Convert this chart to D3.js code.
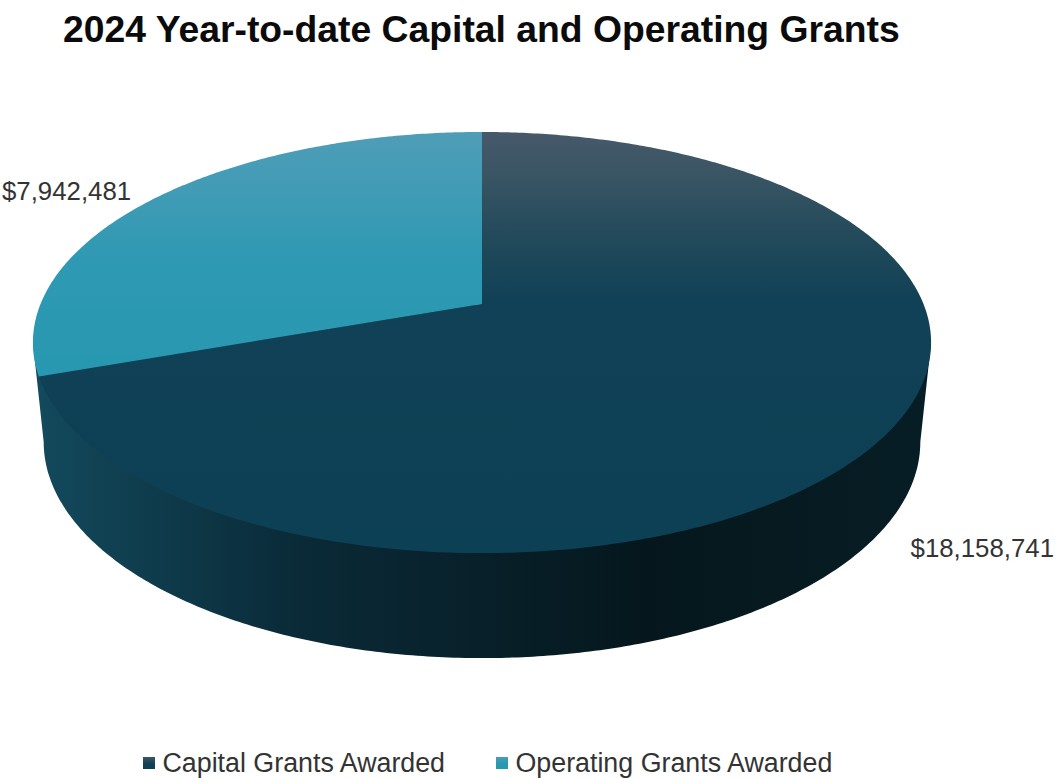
<!DOCTYPE html>
<html lang="en">
<head>
<meta charset="UTF-8">
<title>2024 Year-to-date Capital and Operating Grants</title>
<script src="https://d3js.org/d3.v7.min.js"></script>
<style>
  html, body { margin: 0; padding: 0; background: #fff; }
  svg { display: block; font-family: "Liberation Sans", Arial, sans-serif; }
</style>
</head>
<body>
<svg id="chart" width="1057" height="778"></svg>
<script>
const titleText = "2024 Year-to-date Capital and Operating Grants";
const categories = ["Capital Grants Awarded", "Operating Grants Awarded"];
const grantValues = [18158741, 7942481];

const svg = d3.select("#chart");
const defs = svg.append("defs");

// gradients: top face is vertical, the rim runs left to right
function vGrad(id, stops) {
  const g = defs.append("linearGradient").attr("id", id)
    .attr("gradientUnits", "userSpaceOnUse")
    .attr("x1", 0).attr("x2", 0).attr("y1", 132).attr("y2", 553);
  stops.forEach(s => g.append("stop").attr("offset", s[0]).attr("stop-color", s[1]));
}
vGrad("faceCapital", [[0, "#46596a"], [0.1, "#3a5564"], [0.25, "#224a5b"], [0.4, "#114156"], [1, "#0c4054"]]);
vGrad("faceOperating", [[0, "#4f9db7"], [0.1, "#459cb6"], [0.3, "#2f99b3"], [0.55, "#2898b0"], [1, "#2898b0"]]);

const rim = defs.append("linearGradient").attr("id", "rimCapital")
  .attr("gradientUnits", "userSpaceOnUse")
  .attr("x1", 33).attr("x2", 931).attr("y1", 0).attr("y2", 0);
[[0, "#134a5d"], [0.12, "#0f3d4e"], [0.3, "#0a2a37"], [0.5, "#08202a"], [0.68, "#05171d"], [0.82, "#061a20"], [1, "#071d25"]]
  .forEach(s => rim.append("stop").attr("offset", s[0]).attr("stop-color", s[1]));

const swatchA = defs.append("linearGradient").attr("id", "swatchCapital").attr("x1", 0).attr("x2", 0).attr("y1", 0).attr("y2", 1);
swatchA.append("stop").attr("offset", 0).attr("stop-color", "#3c5666");
swatchA.append("stop").attr("offset", 0.6).attr("stop-color", "#0f4054");
const swatchB = defs.append("linearGradient").attr("id", "swatchOperating").attr("x1", 0).attr("x2", 0).attr("y1", 0).attr("y2", 1);
swatchB.append("stop").attr("offset", 0).attr("stop-color", "#4a9cb6");
swatchB.append("stop").attr("offset", 0.6).attr("stop-color", "#2898b0");

// perspective projection of the unit disc onto the page
const cx = 482, apexY = 304, persp = -0.183, spreadY = 147.9, spreadX = 441.5;
const ellipseCy = 342.5, ellipseRy = 210.5;
function topPoint(angle, r) {
  const X = r * Math.sin(angle), Y = -r * Math.cos(angle), w = 1 + persp * Y;
  return [cx + spreadX * X / w, (apexY + spreadY * Y) / w];
}
function lowPoint(angle) {
  const p = topPoint(angle, 1);
  return [cx + (p[0] - cx) * 0.976, 442 + (p[1] - ellipseCy) * (216 / ellipseRy)];
}

const pie = d3.pie().sort(null).value(d => d);
const arcs = pie(grantValues);
const line = d3.line();
const fmt = d3.format("$,");
const steps = a => d3.range(a.startAngle, a.endAngle, 0.01).concat([a.endAngle]);

// rim, between the two points where the disc is widest on the page
// (its upper edge runs under the top face so no seam shows)
const tangent = Math.PI / 2 + Math.asin(-persp);
const rimEnd = 2 * Math.PI - tangent;
const rimAngles = steps({ startAngle: tangent, endAngle: rimEnd });
const rimPath = rimAngles.map(lowPoint).concat([topPoint(rimEnd, 1), topPoint(0, 0), topPoint(tangent, 1)]);
svg.append("path").attr("d", line(rimPath) + "Z").attr("fill", "url(#rimCapital)");

// top faces
const faces = ["url(#faceCapital)", "url(#faceOperating)"];
arcs.forEach((a, i) => {
  const pts = [topPoint(0, 0)].concat(steps(a).map(t => topPoint(t, 1)));
  svg.append("path").attr("d", line(pts) + "Z").attr("fill", faces[i]);
});

// title
svg.append("text").attr("x", 63).attr("y", 42)
  .attr("font-size", 37.3).attr("font-weight", "bold").attr("fill", "#0b0b0b")
  .text(titleText);

// data labels
const labelPos = [[2, 200, "start"], [1054, 557, "end"]];
const labelOrder = [1, 0];
labelOrder.forEach((k, i) => {
  svg.append("text").attr("x", labelPos[i][0]).attr("y", labelPos[i][1])
    .attr("text-anchor", labelPos[i][2])
    .attr("font-size", 25.8).attr("fill", "#333")
    .text(fmt(grantValues[k]));
});

// legend
const legendX = [143, 496];
const swatches = ["url(#swatchCapital)", "url(#swatchOperating)"];
categories.forEach((c, i) => {
  svg.append("rect").attr("x", legendX[i]).attr("y", 757).attr("width", 12).attr("height", 12)
    .attr("fill", swatches[i]);
  svg.append("text").attr("x", legendX[i] + 19.5).attr("y", 771.5)
    .attr("font-size", 26.8).attr("fill", "#333").text(c);
});
</script>
</body>
</html>
